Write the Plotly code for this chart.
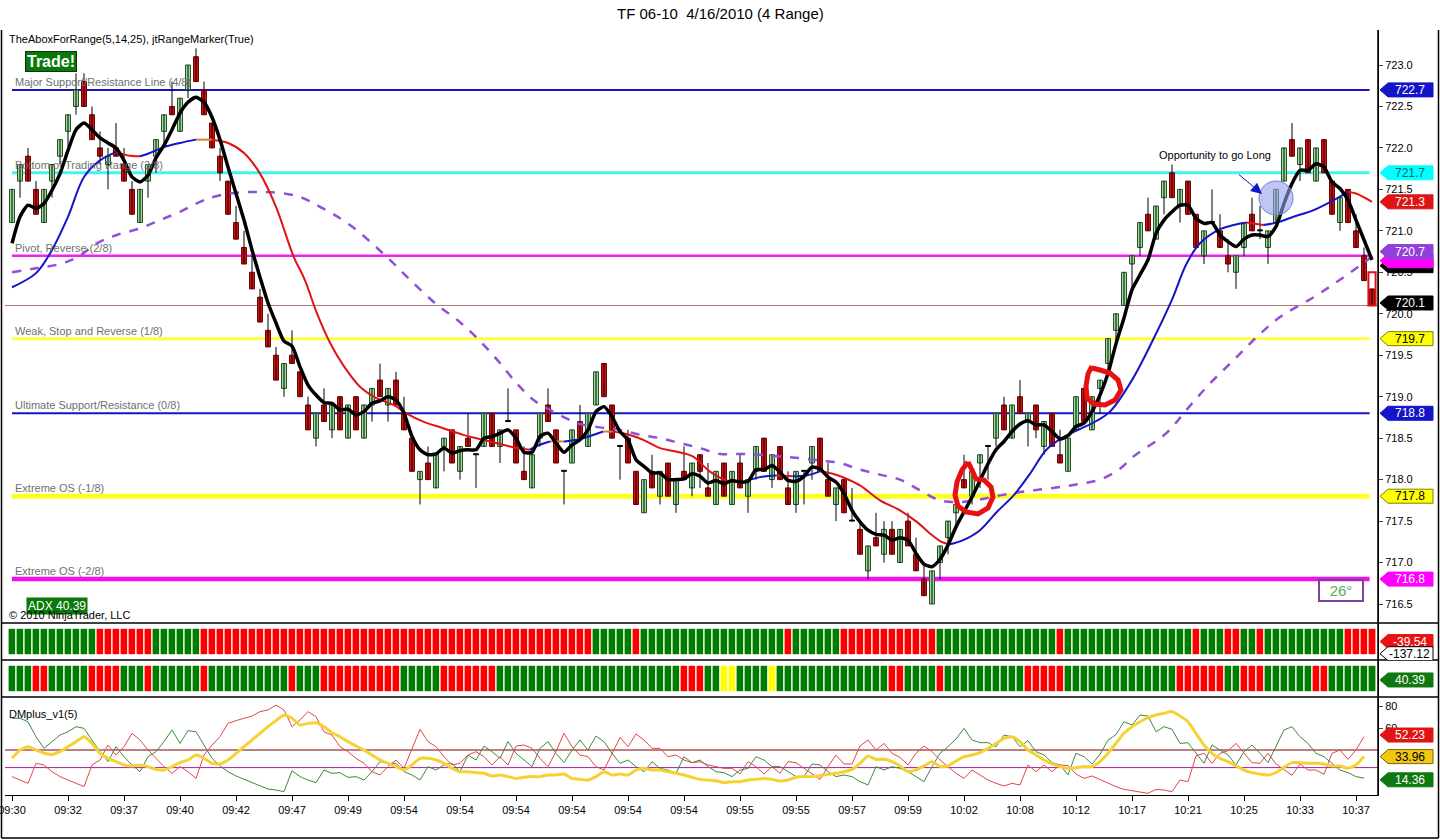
import plotly.graph_objects as go

# ------------------------------------------------------------------ data
open_px = [721.1, 721.6, 721.9, 721.5, 721.1, 721.6, 721.9, 722.2, 722.5, 722.8,
           722.4, 722.0, 721.8, 722.0, 721.8, 721.5, 721.1, 721.6, 721.9, 722.2,
           722.5, 722.2, 722.7, 723.1, 722.7, 722.3, 721.9, 721.6, 721.1, 720.8,
           720.5, 720.2, 719.8, 719.5, 719.1, 719.5, 719.3, 718.9, 718.5, 718.9,
           718.6, 719.0, 718.5, 719.0, 718.5, 718.9, 719.2, 718.9, 719.2, 718.8,
           718.5, 718.0, 718.2, 717.9, 718.4, 718.6, 718.1, 718.5, 718.3, 718.4,
           718.8, 718.4, 718.7, 718.6, 718.1, 717.9, 718.5, 718.9, 718.6, 718.1,
           718.2, 718.7, 718.4, 718.9, 719.4, 718.9, 718.4, 718.5, 718.1, 717.6,
           718.1, 717.8, 718.2, 717.7, 718.1, 717.9, 718.3, 717.9, 717.7, 718.2,
           717.7, 718.2, 717.8, 718.1, 718.5, 718.0, 718.4, 717.9, 717.7, 718.1,
           718.2, 718.5, 718.0, 717.7, 718.0, 717.5, 717.4, 716.9, 717.3, 717.1,
           717.4, 717.0, 717.5, 717.1, 716.8, 716.5, 717.0, 717.3, 717.6, 718.0,
           717.8, 718.2, 718.4, 718.5, 718.9, 718.5, 719.0, 718.7, 718.9, 718.4,
           718.8, 718.3, 718.1, 718.6, 719.1, 718.6, 719.1, 719.4, 719.8, 720.1,
           720.6, 720.8, 721.2, 720.9, 721.4, 721.7, 721.3, 721.6, 721.2, 720.7,
           721.1, 721.0, 720.7, 720.5, 720.8, 721.2, 721.0, 720.8, 721.1, 721.6,
           722.1, 721.8, 722.1, 721.6, 722.1, 721.6, 721.1, 721.5, 721.0, 720.7,
           720.3]
high_px = [721.5, 721.8, 722.0, 721.6, 721.5, 721.8, 722.1, 722.4, 722.9, 722.9,
           722.5, 722.2, 722.0, 722.3, 722.0, 721.6, 721.5, 721.8, 722.1, 722.4,
           722.8, 722.6, 723.0, 723.2, 722.8, 722.3, 722.0, 721.6, 721.3, 721.0,
           720.7, 720.3, 720.0, 719.6, 719.4, 719.8, 719.3, 719.0, 718.8, 719.1,
           718.9, 719.0, 718.9, 719.0, 718.9, 719.1, 719.4, 719.1, 719.3, 719.0,
           718.5, 718.1, 718.4, 718.3, 718.5, 718.6, 718.4, 718.8, 718.3, 718.8,
           718.8, 718.6, 719.1, 718.6, 718.4, 718.3, 718.8, 719.1, 718.6, 718.1,
           718.6, 718.9, 718.8, 719.3, 719.4, 718.9, 718.4, 718.6, 718.1, 718.0,
           718.3, 718.1, 718.2, 718.0, 718.4, 718.2, 718.3, 718.2, 718.1, 718.2,
           718.1, 718.3, 718.0, 718.4, 718.5, 718.3, 718.4, 718.1, 718.1, 718.1,
           718.4, 718.5, 718.2, 717.9, 718.0, 717.9, 717.5, 717.2, 717.6, 717.5,
           717.5, 717.4, 717.6, 717.3, 717.0, 716.9, 717.2, 717.5, 717.8, 718.3,
           718.1, 718.3, 718.4, 718.8, 719.0, 718.9, 719.2, 718.8, 718.9, 718.7,
           718.8, 718.6, 718.5, 719.0, 719.1, 719.0, 719.2, 719.7, 720.0, 720.5,
           720.7, 721.1, 721.4, 721.3, 721.6, 721.8, 721.5, 721.6, 721.2, 721.0,
           721.5, 721.2, 720.9, 720.7, 721.1, 721.4, 721.3, 721.0, 721.5, 722.0,
           722.3, 722.0, 722.1, 722.0, 722.1, 721.6, 721.4, 721.5, 721.2, 720.8,
           720.3]
low_px = [721.1, 721.4, 721.6, 721.2, 721.1, 721.4, 721.8, 722.0, 722.4, 722.5,
          722.1, 721.8, 721.5, 721.9, 721.6, 721.2, 721.1, 721.4, 721.7, 722.0,
          722.4, 722.2, 722.6, 722.8, 722.4, 722.0, 721.6, 721.2, 720.9, 720.6,
          720.3, 719.9, 719.6, 719.2, 719.0, 719.4, 719.0, 718.6, 718.4, 718.7,
          718.5, 718.6, 718.5, 718.6, 718.5, 718.7, 719.0, 718.7, 718.9, 718.6,
          718.1, 717.7, 718.0, 717.9, 718.1, 718.2, 718.0, 718.4, 717.9, 718.4,
          718.4, 718.2, 718.7, 718.2, 718.0, 717.9, 718.4, 718.7, 718.2, 717.7,
          718.2, 718.5, 718.4, 718.9, 719.0, 718.5, 718.0, 718.2, 717.7, 717.6,
          717.9, 717.7, 717.8, 717.6, 718.0, 717.8, 717.9, 717.8, 717.7, 717.8,
          717.7, 717.9, 717.6, 718.0, 718.1, 717.9, 718.0, 717.7, 717.6, 717.7,
          718.0, 718.1, 717.8, 717.5, 717.6, 717.5, 717.1, 716.8, 717.2, 717.0,
          717.1, 717.0, 717.2, 716.9, 716.6, 716.5, 716.8, 717.1, 717.4, 717.9,
          717.7, 717.9, 718.0, 718.4, 718.6, 718.5, 718.8, 718.4, 718.5, 718.3,
          718.4, 718.2, 718.1, 718.6, 718.7, 718.6, 718.8, 719.3, 719.6, 720.1,
          720.3, 720.7, 721.0, 720.9, 721.2, 721.4, 721.1, 721.2, 720.8, 720.6,
          721.1, 720.8, 720.5, 720.3, 720.7, 721.0, 720.9, 720.6, 721.1, 721.6,
          721.9, 721.6, 721.7, 721.6, 721.7, 721.2, 721.0, 721.1, 720.8, 720.4,
          720.1]
close_px = [721.5, 721.8, 721.6, 721.2, 721.5, 721.8, 722.1, 722.4, 722.7, 722.5,
            722.1, 721.9, 721.9, 721.9, 721.6, 721.2, 721.5, 721.8, 722.1, 722.4,
            722.4, 722.6, 723.0, 722.8, 722.4, 722.0, 721.7, 721.2, 720.9, 720.6,
            720.3, 719.9, 719.6, 719.2, 719.4, 719.4, 719.0, 718.6, 718.8, 718.7,
            718.9, 718.6, 718.9, 718.6, 718.9, 719.1, 719.0, 719.1, 718.9, 718.6,
            718.1, 718.1, 718.0, 718.3, 718.5, 718.2, 718.4, 718.4, 718.3, 718.8,
            718.4, 718.6, 718.7, 718.2, 718.0, 718.3, 718.8, 718.7, 718.2, 718.1,
            718.6, 718.5, 718.8, 719.3, 719.0, 718.5, 718.4, 718.2, 717.7, 718.0,
            717.9, 718.1, 717.8, 718.0, 718.0, 718.2, 718.1, 717.8, 718.1, 717.8,
            718.1, 717.9, 718.0, 718.4, 718.1, 718.3, 718.0, 717.7, 718.1, 718.1,
            718.4, 718.1, 717.8, 717.9, 717.6, 717.5, 717.1, 717.2, 717.2, 717.4,
            717.1, 717.4, 717.2, 716.9, 716.6, 716.9, 717.2, 717.5, 717.7, 717.9,
            718.1, 718.3, 718.4, 718.8, 718.6, 718.9, 718.8, 718.8, 718.6, 718.7,
            718.4, 718.2, 718.5, 719.0, 718.7, 719.0, 719.2, 719.7, 720.0, 720.5,
            720.7, 721.1, 721.0, 721.3, 721.6, 721.4, 721.5, 721.2, 720.8, 721.0,
            721.1, 720.8, 720.6, 720.7, 721.1, 721.0, 721.0, 721.0, 721.5, 722.0,
            721.9, 722.0, 721.7, 722.0, 721.7, 721.2, 721.4, 721.1, 720.8, 720.4,
            720.1]

ma5 = [720.85, 721.17, 721.31, 721.27, 721.33, 721.49, 721.69, 721.97, 722.22, 722.30,
       722.22, 722.12, 722.06, 722.00, 721.85, 721.65, 721.59, 721.67, 721.88, 722.03,
       722.22, 722.42, 722.55, 722.61, 722.55, 722.37, 722.10, 721.77, 721.45, 721.13,
       720.77, 720.44, 720.13, 719.89, 719.67, 719.61, 719.36, 719.14, 719.02, 718.93,
       718.92, 718.84, 718.85, 718.78, 718.82, 718.92, 718.95, 719.00, 718.96, 718.80,
       718.52, 718.36, 718.30, 718.31, 718.38, 718.32, 718.35, 718.36, 718.36, 718.50,
       718.52, 718.56, 718.60, 718.50, 718.33, 718.33, 718.52, 718.56, 718.44, 718.33,
       718.42, 718.48, 718.60, 718.82, 718.88, 718.76, 718.58, 718.48, 718.24, 718.16,
       718.08, 718.08, 718.00, 718.00, 718.01, 718.07, 718.04, 717.96, 717.99, 717.95,
       717.99, 717.97, 717.98, 718.12, 718.12, 718.17, 718.09, 717.99, 717.98, 718.04,
       718.15, 718.13, 718.03, 717.97, 717.83, 717.63, 717.49, 717.39, 717.34, 717.33,
       717.27, 717.30, 717.27, 717.11, 716.98, 716.95, 717.04, 717.21, 717.43, 717.61,
       717.79, 717.99, 718.19, 718.36, 718.46, 718.58, 718.67, 718.71, 718.66, 718.66,
       718.58, 718.49, 718.53, 718.64, 718.68, 718.82, 719.02, 719.28, 719.64, 719.95,
       720.29, 720.47, 720.65, 720.97, 721.13, 721.23, 721.31, 721.31, 721.15, 721.09,
       721.10, 720.95, 720.87, 720.81, 720.90, 720.95, 720.95, 720.93, 721.05, 721.33,
       721.57, 721.73, 721.73, 721.81, 721.77, 721.59, 721.51, 721.37, 721.13, 720.89,
       720.65]

ma14_bar = [0, 3, 5, 7, 9, 11, 13, 14.5, 16, 17, 19, 21, 23, 25, 27, 29, 31, 33, 35.2, 36.6,
            38.1, 39.75, 41.4, 43.5, 45.6, 47.7, 49.3, 51.4, 53.9, 56.4, 58.9, 61.4, 63.1, 64.7, 66,
            67.25, 69, 71, 73.9, 75.1, 76.8, 78.9, 81, 83, 85.1, 87.2, 89.3, 91.4, 93.5, 95.5,
            97.6, 99.3, 101, 102.6, 104.3, 106, 108.5, 111, 113.1, 114.75, 116.2, 117.25, 118.9,
            121, 123.1, 125.2, 127.25, 129.3, 131.4, 133.5, 135.6, 137.25, 140, 142.6, 145, 146.8,
            148.5, 151, 152.7, 154.3, 156.4, 158.1, 160.2, 162.7, 165.2, 167, 168, 170]
ma14_val = [720.32, 720.49, 720.77, 721.17, 721.65, 721.85, 721.95, 721.91, 721.90, 721.93,
            722.01, 722.06, 722.10, 722.10, 722.06, 721.94, 721.69, 721.29, 720.69, 720.41,
            720.01, 719.65, 719.38, 719.12, 718.98, 718.90, 718.80, 718.70, 718.62, 718.54,
            718.48, 718.42, 718.38, 718.36, 718.42, 718.46, 718.46, 718.49, 718.58, 718.58,
            718.55, 718.48, 718.38, 718.34, 718.28, 718.10, 717.99, 717.97, 718.03, 718.05,
            718.04, 718.05, 718.10, 718.07, 718.01, 717.93, 717.75, 717.63, 717.49, 717.35,
            717.25, 717.22, 717.27, 717.39, 717.61, 717.81, 718.07, 718.36, 718.51, 718.61,
            718.71, 718.82, 719.20, 719.68, 720.17, 720.60, 720.85, 721.02, 721.07, 721.10,
            721.07, 721.10, 721.17, 721.25, 721.37, 721.47, 721.45, 721.35]

ma25_bar = [0, 3, 6, 8.3, 10.6, 13.1, 16, 18.5, 21, 23.5, 26, 30.6, 35.6, 38.5, 42.25, 46.8,
            49.75, 53.1, 55.6, 58.1, 60.6, 63.1, 65.2, 67.25, 69.5, 71, 73.5, 76, 78.5, 81, 83.5,
            86, 88.5, 91, 93.5, 96, 98.5, 101, 103.5, 106, 108.5, 111, 113.5, 116, 118.5, 121,
            123.5, 126, 128.5, 131, 133.5, 136, 138.5, 140.2, 144.3, 146.8, 149.75, 152.7, 155.6,
            158.5, 162.7, 166, 168.9, 170]
ma25_val = [720.50, 720.55, 720.60, 720.69, 720.85, 720.95, 721.03, 721.13, 721.23, 721.35,
            721.43, 721.47, 721.42, 721.29, 721.07, 720.69, 720.41, 720.11, 719.93, 719.71,
            719.45, 719.16, 718.96, 718.84, 718.73, 718.67, 718.63, 718.60, 718.54, 718.50,
            718.44, 718.38, 718.31, 718.31, 718.30, 718.28, 718.26, 718.23, 718.20, 718.12,
            718.06, 718.00, 717.87, 717.75, 717.73, 717.76, 717.81, 717.85, 717.88, 717.91,
            717.95, 718.00, 718.13, 718.28, 718.56, 718.84, 719.16, 719.44, 719.72, 719.96,
            720.20, 720.41, 720.61, 720.69]

level_val = [722.7, 721.7, 720.7, 719.7, 718.8, 717.8, 716.8]
level_name = ["Major Support/Resistance Line (4/8)", "Bottom of Trading Range (3/8)",
              "Pivot, Reverse (2/8)", "Weak, Stop and Reverse (1/8)",
              "Ultimate Support/Resistance (0/8)", "Extreme OS (-1/8)", "Extreme OS (-2/8)"]
last_price = 720.1

strip1_runs = [("g", 11), ("r", 7), ("g", 6), ("r", 49), ("g", 5), ("r", 1), ("g", 18), ("r", 1),
               ("g", 6), ("r", 12), ("g", 15), ("r", 1), ("g", 16), ("r", 1), ("g", 3), ("r", 2),
               ("g", 2), ("r", 1), ("g", 10), ("r", 4)]
strip2_runs = [("g", 3), ("r", 2), ("g", 5), ("r", 4), ("g", 3), ("r", 1), ("g", 6), ("r", 1),
               ("g", 10), ("r", 1), ("g", 3), ("r", 10), ("g", 5), ("r", 7), ("g", 23), ("r", 3),
               ("g", 2), ("y", 2), ("g", 4), ("y", 1), ("g", 14), ("r", 2), ("g", 4), ("r", 1),
               ("g", 10), ("r", 5), ("g", 14), ("r", 6), ("g", 2), ("r", 3), ("g", 6), ("r", 2),
               ("g", 6)]

dm_green = [68.8, 68.8, 65.7, 52.0, 41.5, 47.6, 53.6, 56.6, 61.2, 59.7,
            49.1, 38.5, 29.4, 43.0, 33.9, 26.4, 20.3, 33.9, 38.5, 47.6,
            58.2, 46.0, 57.6, 56.6, 44.5, 32.4, 25.5, 20.3, 16.4, 13.3,
            10.3, 7.3, 4.5, 3.6, 2.1, 21.2, 15.8, 12.7, 10.3, 21.8,
            18.8, 19.4, 15.1, 15.8, 12.7, 20.3, 29.4, 27.9, 27.9, 20.3,
            17.3, 12.7, 24.9, 21.8, 26.4, 27.9, 20.3, 35.4, 30.9, 43.6,
            38.5, 32.4, 47.6, 37.0, 30.9, 24.9, 41.5, 47.6, 37.0, 28.5,
            40.0, 49.1, 40.0, 52.7, 47.6, 37.0, 27.9, 30.9, 24.9, 20.3,
            29.4, 23.3, 21.8, 18.8, 33.9, 28.5, 30.9, 24.9, 20.3, 19.4,
            15.8, 21.8, 23.3, 33.9, 30.9, 24.9, 24.9, 20.3, 15.8, 15.8,
            27.3, 26.4, 20.3, 15.8, 17.3, 15.8, 11.2, 8.2, 24.9, 21.8,
            24.9, 23.3, 20.3, 15.8, 11.2, 24.9, 37.0, 43.0, 50.0, 59.7,
            49.1, 46.7, 46.7, 43.0, 53.6, 52.1, 43.0, 48.5, 38.5, 35.5,
            28.5, 26.4, 17.3, 37.0, 33.9, 27.3, 36.0, 49.0, 54.0, 65.7,
            62.7, 71.8, 70.9, 56.6, 61.2, 58.8, 46.0, 46.6, 37.0, 27.9,
            44.5, 40.0, 35.5, 26.4, 38.5, 44.5, 37.0, 28.5, 43.0, 58.2,
            61.2, 52.1, 46.0, 37.0, 33.9, 27.9, 21.8, 19.4, 15.8, 14.4]
dm_red = [15.8, 12.7, 9.7, 27.9, 26.4, 20.3, 15.8, 12.7, 9.7, 6.7,
          26.4, 30.9, 44.5, 35.4, 43.0, 55.2, 49.1, 40.0, 32.4, 24.9,
          18.8, 24.9, 20.3, 14.2, 35.4, 44.5, 52.1, 64.2, 66.7, 68.8,
          70.9, 74.9, 76.4, 80.9, 76.4, 61.2, 67.3, 74.9, 70.3, 56.6,
          53.6, 43.0, 38.5, 32.4, 27.9, 20.3, 17.3, 24.9, 30.9, 23.3,
          41.5, 58.8, 47.6, 43.0, 33.9, 26.4, 27.9, 35.4, 38.5, 33.9,
          26.4, 33.9, 26.4, 43.6, 44.5, 41.5, 32.4, 24.9, 38.5, 55.2,
          43.0, 35.4, 33.9, 24.9, 21.8, 37.0, 51.5, 43.0, 54.6, 49.1,
          41.5, 41.5, 33.9, 35.4, 30.9, 28.5, 29.4, 26.4, 24.9, 23.3,
          23.3, 18.2, 29.4, 24.9, 18.2, 24.9, 18.8, 29.4, 28.5, 23.3,
          18.8, 13.3, 24.9, 35.4, 27.3, 27.3, 43.6, 49.1, 40.0, 46.0,
          37.0, 33.3, 26.4, 37.0, 43.6, 38.5, 31.0, 24.9, 18.8, 14.2,
          21.8, 17.3, 12.7, 9.7, 7.3, 9.7, 8.2, 26.4, 20.3, 26.4,
          20.3, 26.4, 25.8, 18.2, 14.2, 16.4, 13.0, 9.7, 6.7, 4.2,
          3.0, 2.1, 0.6, 4.2, 3.6, 2.1, 12.7, 11.2, 34.8, 37.0,
          27.9, 37.0, 39.4, 46.0, 37.0, 28.5, 27.9, 37.0, 27.3, 21.8,
          17.0, 27.3, 21.8, 21.8, 17.9, 37.0, 40.0, 31.5, 40.0, 52.2]
dm_yellow = [32.4, 40.0, 43.0, 40.0, 37.0, 36.0, 38.5, 43.0, 47.6, 52.1,
             46.0, 37.0, 32.4, 29.4, 26.4, 25.5, 26.4, 24.9, 22.4, 21.8,
             24.9, 28.5, 30.9, 35.4, 32.4, 27.9, 27.3, 30.9, 37.0, 43.0,
             49.1, 55.2, 61.2, 66.7, 71.8, 68.8, 62.7, 64.2, 64.8, 61.2,
             55.7, 52.1, 47.6, 43.6, 40.0, 35.4, 30.9, 27.9, 24.9, 21.8,
             26.4, 32.4, 32.4, 30.9, 27.9, 23.3, 20.3, 20.3, 19.4, 18.8,
             16.4, 17.3, 15.8, 14.2, 15.2, 15.8, 15.8, 17.3, 17.3, 18.2,
             14.2, 13.3, 12.7, 15.8, 20.3, 17.3, 18.2, 17.3, 21.8, 23.3,
             21.8, 21.8, 20.3, 18.8, 17.3, 15.2, 13.3, 12.7, 12.1, 10.3,
             11.2, 11.2, 12.7, 13.3, 14.2, 13.3, 11.8, 12.7, 15.2, 15.8,
             15.8, 16.7, 17.9, 18.8, 20.3, 22.4, 27.9, 34.5, 31.5, 31.5,
             29.4, 25.5, 20.3, 21.8, 25.5, 29.4, 24.9, 25.5, 30.0, 33.9,
             35.5, 37.6, 41.5, 46.0, 50.6, 52.1, 47.6, 40.0, 35.5, 30.9,
             27.3, 24.9, 23.3, 23.9, 24.9, 24.9, 29.4, 37.0, 46.0, 55.2,
             61.2, 65.7, 69.4, 71.8, 73.3, 74.9, 70.9, 65.7, 55.2, 44.5,
             37.0, 32.4, 29.4, 25.5, 21.8, 19.4, 18.2, 17.3, 19.4, 24.3,
             28.5, 28.5, 27.9, 27.9, 27.3, 25.5, 25.5, 23.3, 26.4, 34.0]
dm_levels = [40, 24]
dm_ticks = [60, 80]

tick_bars = list(range(0, 169, 7))
tick_labels = ["09:30", "09:32", "09:37", "09:40", "09:42", "09:47", "09:49", "09:54", "09:54",
               "09:54", "09:54", "09:54", "09:54", "09:55", "09:55", "09:57", "09:59", "10:02",
               "10:08", "10:12", "10:17", "10:21", "10:25", "10:33", "10:37"]

# ------------------------------------------------------------------ geometry helpers
W, H = 1440, 840
ML, MR, MT, MB = 5, 62, 30, 45
PW, PH = W - ML - MR, H - MT - MB
def px(x): return (x - ML) / PW
def py(y): return (H - MB - y) / PH

FONT = "Liberation Sans, Arial, sans-serif"
GREEN_C, RED_C, BLUE_MA, RED_MA, ORANGE_MA = "#98E498", "#D01010", "#1414C8", "#E01414", "#D08030"

n = len(close_px)
idx = list(range(n))
fig = go.Figure()

# wicks
wx, wy = [], []
for i in idx:
    wx += [i, i, None]
    wy += [low_px[i], high_px[i], None]
fig.add_trace(go.Scatter(x=wx, y=wy, mode="lines", line=dict(color="#000000", width=1),
                         hoverinfo="skip", showlegend=False))

# bodies
def body_trace(sel, fill, edge):
    xs = [i for i in idx if sel(i)]
    base = [min(open_px[i], close_px[i]) for i in xs]
    hgt = [max(abs(close_px[i] - open_px[i]), 0.012) for i in xs]
    return go.Bar(x=xs, y=hgt, base=base, width=0.62, marker=dict(color=fill, line=dict(color=edge, width=1)),
                  hoverinfo="skip", showlegend=False)
fig.add_trace(body_trace(lambda i: close_px[i] > open_px[i], GREEN_C, "#2A4A2A"))
fig.add_trace(body_trace(lambda i: close_px[i] < open_px[i], RED_C, "#700000"))
fig.add_trace(body_trace(lambda i: close_px[i] == open_px[i], "#000000", "#000000"))

# MA 25 (dashed purple)
fig.add_trace(go.Scatter(x=ma25_bar, y=ma25_val, mode="lines", line=dict(color="#9050D8", width=2.5, dash="dash", shape="spline"),
                         hoverinfo="skip", showlegend=False))

# MA 14 coloured by slope
def slope_col(d):
    if d > 0.004: return BLUE_MA
    if d < -0.004: return RED_MA
    return ORANGE_MA
groups = []
for k in range(len(ma14_bar) - 1):
    c = slope_col(ma14_val[k + 1] - ma14_val[k])
    if groups and groups[-1][0] == c:
        groups[-1][1].append(k + 1)
    else:
        groups.append([c, [k, k + 1]])
for c, ks in groups:
    fig.add_trace(go.Scatter(x=[ma14_bar[k] for k in ks], y=[ma14_val[k] for k in ks], mode="lines",
                             line=dict(color=c, width=2, shape="spline"), hoverinfo="skip", showlegend=False))

# MA 5 black
fig.add_trace(go.Scatter(x=idx, y=ma5, mode="lines", line=dict(color="#000000", width=3.5, shape="spline", smoothing=0.6),
                         hoverinfo="skip", showlegend=False))

# strips
def expand(runs):
    cmap = {"g": "#007D00", "r": "#FF0000", "y": "#FFFF00"}
    out = []
    for c, k in runs:
        out += [cmap[c]] * k
    return out
for runs, ya in ((strip1_runs, "y2"), (strip2_runs, "y3")):
    cols = expand(runs)
    fig.add_trace(go.Bar(x=list(range(len(cols))), y=[0.72] * len(cols), base=0.14, width=1.0, yaxis=ya,
                         marker=dict(color=cols, line=dict(color="#FFFFFF", width=1.2)),
                         hoverinfo="skip", showlegend=False))

# DMplus
dmx = list(range(len(dm_green)))
fig.add_trace(go.Scatter(x=dmx, y=dm_green, yaxis="y4", mode="lines", line=dict(color="#3C8C3C", width=1),
                         hoverinfo="skip", showlegend=False))
fig.add_trace(go.Scatter(x=dmx, y=dm_red, yaxis="y4", mode="lines", line=dict(color="#E04848", width=1),
                         hoverinfo="skip", showlegend=False))
fig.add_trace(go.Scatter(x=dmx, y=dm_yellow, yaxis="y4", mode="lines", line=dict(color="#F5D232", width=3, shape="spline", smoothing=0.5),
                         hoverinfo="skip", showlegend=False))

shapes, annos = [], []

# level lines
lvl_style = [("#1414C0", 2), ("#40F4F4", 3), ("#F020F0", 2.5), ("#FFFF40", 3),
             ("#1414C0", 2), ("#FFFF20", 5), ("#F010F0", 4.5)]
last_bar = n - 1
for v, name, (col, w) in zip(level_val, level_name, lvl_style):
    shapes.append(dict(type="line", xref="x", yref="y", x0=0, x1=last_bar - 0.3, y0=v, y1=v,
                       line=dict(color=col, width=w), layer="below"))
    annos.append(dict(x=px(13), y=v, xref="paper", yref="y", text=name, showarrow=False, xanchor="left",
                      yanchor="bottom", yshift=0, font=dict(size=11, color="#707070", family=FONT)))
shapes.append(dict(type="line", xref="paper", yref="y", x0=0, x1=1, y0=last_price, y1=last_price,
                   line=dict(color="#B07878", width=1), layer="below"))

# DM level lines
for v, col in zip(dm_levels, ("#800000", "#A020A0")):
    shapes.append(dict(type="line", xref="paper", yref="y4", x0=0, x1=1, y0=v, y1=v,
                       line=dict(color=col, width=1), layer="below"))

# current bar range marker
shapes.append(dict(type="rect", xref="x", yref="y", x0=last_bar - 0.45, x1=last_bar + 0.45,
                   y0=close_px[-1], y1=close_px[-1] + 0.4, line=dict(color="#E01010", width=2)))

# panel separators and frame
for yy in (623, 660, 697):
    shapes.append(dict(type="line", xref="paper", yref="paper", x0=px(1), x1=px(1439), y0=py(yy), y1=py(yy),
                       line=dict(color="#000000", width=1.5)))
shapes.append(dict(type="line", xref="paper", yref="paper", x0=1, x1=1, y0=py(795), y1=py(30),
                   line=dict(color="#000000", width=1.5)))
shapes.append(dict(type="line", xref="paper", yref="paper", x0=px(1.5), x1=px(1.5), y0=py(838), y1=py(30),
                   line=dict(color="#000000", width=1.5)))
shapes.append(dict(type="line", xref="paper", yref="paper", x0=px(1438.5), x1=px(1438.5), y0=py(838), y1=py(30),
                   line=dict(color="#000000", width=1.5)))
shapes.append(dict(type="line", xref="paper", yref="paper", x0=px(1.5), x1=px(1438.5), y0=py(838), y1=py(838),
                   line=dict(color="#000000", width=1.5)))

# right-hand price tags
def tag(yv, yref, half, text, bg, fg, edge=None):
    x0, x1, x2 = px(1380), px(1388), px(1433)
    path = f"M {x0},{yv} L {x1},{yv + half} L {x2},{yv + half} L {x2},{yv - half} L {x1},{yv - half} Z"
    shapes.append(dict(type="path", path=path, xref="paper", yref=yref, fillcolor=bg,
                       line=dict(color=edge or bg, width=1), layer="above"))
    if text:
        annos.append(dict(x=px(1410), y=yv, xref="paper", yref=yref, text=text, showarrow=False,
                          xanchor="center", yanchor="middle",
                          font=dict(size=12, color=fg, family=FONT)))
hm = 7 / 82.9
tag(level_val[0], "y", hm, "722.7", "#1414C8", "#FFFFFF")
tag(level_val[1], "y", hm, "721.7", "#00FFFF", "#006868")
tag(ma14_val[-1], "y", hm, "721.3", "#DD1414", "#FFFFFF")
tag(720.58, "y", hm, "", "#000000", "#FFFFFF")
tag(720.64, "y", hm, "", "#FF00FF", "#FFFFFF")
tag(ma25_val[-1] + 0.06, "y", hm, "720.7", "#9040D8", "#FFFFFF")
tag(close_px[-1] + 0.03, "y", hm, "720.1", "#000000", "#FFFFFF")
tag(level_val[3], "y", hm, "719.7", "#FFFF00", "#000000", "#808000")
tag(level_val[4], "y", hm, "718.8", "#1414C8", "#FFFFFF")
tag(level_val[5], "y", hm, "717.8", "#FFFF00", "#000000", "#808000")
tag(level_val[6], "y", hm, "716.8", "#FF00FF", "#FFFFFF")
hs = 7 / 37
tag(0.5, "y2", hs, "-39.54", "#E81414", "#FFFFFF")
tag(0.17, "y2", hs, "-137.12", "#FFFFFF", "#000000", "#000000")
tag(0.46, "y3", hs, "40.39", "#107810", "#FFFFFF")
hd = 7 / 1.1
tag(dm_red[-1] + 1.4, "y4", hd, "52.23", "#E01414", "#FFFFFF")
tag(dm_yellow[-1], "y4", hd, "33.96", "#F0C814", "#000000", "#806000")
tag(dm_green[-1] - 1.5, "y4", hd, "14.36", "#107810", "#FFFFFF")

# texts
def ptext(x, y, text, size=11, color="#000000", xanchor="left", **kw):
    d = dict(x=px(x), y=py(y), xref="paper", yref="paper", text=text, showarrow=False,
             xanchor=xanchor, yanchor="middle", font=dict(size=size, color=color, family=FONT))
    d.update(kw)
    return d

annos += [
    ptext(720, 13, "TF 06-10\u00a0\u00a04/16/2010 (4 Range)", size=15, xanchor="center"),
    ptext(7, 39, "TheAboxForRange(5,14,25), jtRangeMarker(True)"),
    ptext(25, 62, "<b>Trade!</b>", size=16, color="#FFFFFF", bgcolor="#0A780A", bordercolor="#063806",
          borderwidth=1, borderpad=1),
    ptext(26, 605.5, "ADX 40.39", size=12, color="#FFFFFF", bgcolor="#0A780A", borderpad=1),
    ptext(7, 615, "\u00a9 2010 NinjaTrader, LLC"),
    ptext(7, 714, "DMplus_v1(5)"),
    ptext(1157, 155, "Opportunity to go Long"),
    dict(x=px(1262), y=py(194), xref="paper", yref="paper", ax=-26, ay=-22, text=" ", showarrow=True,
         arrowhead=2, arrowsize=2.2, arrowwidth=1, arrowcolor="#1414C8"),
    ptext(1341, 590, "26\u00b0", size=15, color="#5AA85A", xanchor="center",
          bordercolor="#8040A0", borderwidth=2, borderpad=1, width=40),
]

# opportunity circle
shapes.append(dict(type="circle", xref="paper", yref="paper", x0=px(1259), x1=px(1293), y0=py(215), y1=py(181),
                   fillcolor="rgba(150,160,235,0.6)", line=dict(color="#7080E0", width=1), layer="above"))

# hand-drawn red loops
def loop(points):
    s = "M " + " L ".join(f"{px(x)},{py(y)}" for x, y in points)
    return dict(type="path", path=s, xref="paper", yref="paper", line=dict(color="#E81010", width=5), layer="above")
shapes.append(loop([(968, 462), (962, 470), (957, 482), (955, 495), (958, 506), (966, 512), (978, 514),
                    (988, 508), (993, 497), (991, 487), (984, 480), (976, 479), (972, 470), (968, 462)]))
shapes.append(loop([(1092, 366), (1088, 374), (1086, 386), (1087, 398), (1094, 404), (1105, 405),
                    (1115, 400), (1121, 390), (1118, 380), (1110, 373), (1100, 370), (1092, 368)]))

axis_common = dict(showgrid=False, zeroline=False, automargin=False)
fig.update_layout(
    width=W, height=H, margin=dict(l=ML, r=MR, t=MT, b=MB, autoexpand=False),
    paper_bgcolor="#FFFFFF", plot_bgcolor="#FFFFFF", barmode="overlay", showlegend=False,
    font=dict(family=FONT, size=11, color="#000000"),
    xaxis=dict(range=[-0.875, 170.75], anchor="y4", showline=True,
               linecolor="#000000", linewidth=1, ticks="outside", ticklen=5, tickcolor="#000000",
               tickvals=tick_bars, ticktext=tick_labels, tickfont=dict(size=11, family=FONT),
               ticklabeloverflow="allow", **axis_common),
    yaxis=dict(domain=[py(623), 1], range=[716.5 - 19 / 82.9, 723.0 + 35 / 82.9], side="right",
               showline=True, linecolor="#000000", ticks="outside", ticklen=4,
               tick0=716.5, dtick=0.5, tickformat=".1f", tickfont=dict(size=11, family=FONT), **axis_common),
    yaxis2=dict(domain=[py(660), py(623)], range=[0, 1], showticklabels=False,
                showline=True, linecolor="#000000", side="right", **axis_common),
    yaxis3=dict(domain=[py(697), py(660)], range=[0, 1], showticklabels=False,
                showline=True, linecolor="#000000", side="right", **axis_common),
    yaxis4=dict(domain=[0, py(697)], range=[80 - 89 / 1.1, 80 + 9 / 1.1], side="right",
                showline=True, linecolor="#000000", ticks="outside", ticklen=4,
                tickvals=dm_ticks, tickfont=dict(size=11, family=FONT), **axis_common),
    shapes=shapes, annotations=annos,
)

fig.write_html("out.html", config={"displayModeBar": False},
               post_script="document.body.style.margin='0';document.body.style.overflow='hidden';")
